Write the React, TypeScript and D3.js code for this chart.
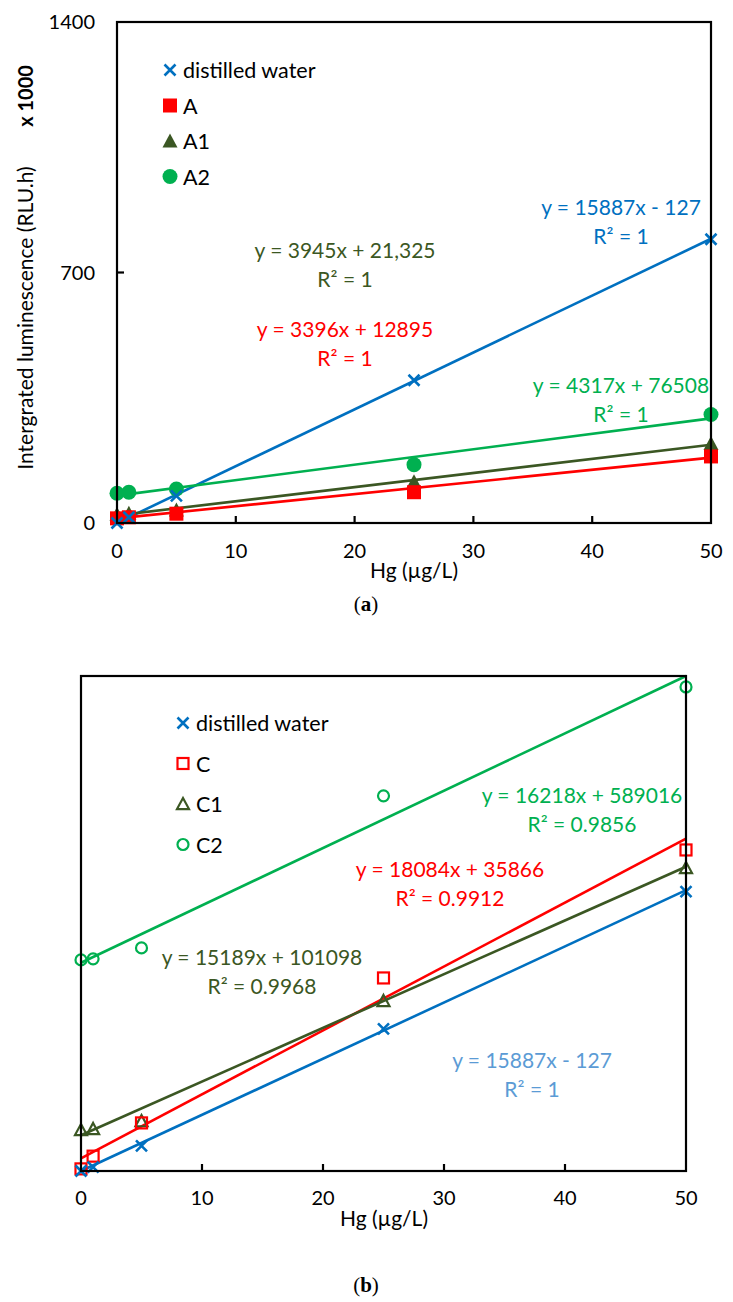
import React from "react";
import * as d3 from "d3";

const W = 733;
const H = 1302;
const FONT = "Lato, 'Open Sans', sans-serif";

const xValues = [0, 1, 5, 25, 50];
const xTicks = [0, 10, 20, 30, 40, 50];
const yTicksA = [0, 700, 1400];

// Panel (a) values (x1000 RLU.h)
const aWater = [0, 16, 76, 399, 793];
const aA = [13, 16, 26, 86, 186];
const aA1 = [24, 27, 36, 115, 222];
const aA2 = [83, 86, 95, 163, 303];

// Panel (b) values (x1000 RLU.h)
const bWater = [0, 11, 71, 402, 790];
const bC = [6, 42, 136, 546, 908];
const bC1 = [116, 119, 141, 481, 857];
const bC2 = [597, 600, 631, 1061, 1369];

// trendline coefficients (x1000)
const aFits = [
  { slope: 15.887, intercept: -0.127 },
  { slope: 3.396, intercept: 12.895 },
  { slope: 3.945, intercept: 21.325 },
  { slope: 4.317, intercept: 76.508 },
];
const bFits = [
  { slope: 15.887, intercept: -0.127 },
  { slope: 18.084, intercept: 35.866 },
  { slope: 15.189, intercept: 101.098 },
  { slope: 16.218, intercept: 589.016 },
];

const aNames = ["distilled water", "A", "A1", "A2"];
const bNames = ["distilled water", "C", "C1", "C2"];
const aEquations = [
  ["y = 15887x - 127", "R² = 1"],
  ["y = 3396x + 12895", "R² = 1"],
  ["y = 3945x + 21,325", "R² = 1"],
  ["y = 4317x + 76508", "R² = 1"],
];
const bEquations = [
  ["y = 15887x - 127", "R² = 1"],
  ["y = 18084x + 35866", "R² = 0.9912"],
  ["y = 15189x + 101098", "R² = 0.9968"],
  ["y = 16218x + 589016", "R² = 0.9856"],
];

const BLUE = "#0070C0";
const RED = "#FF0000";
const DKGREEN = "#3B5723";
const GREEN = "#00B050";
const LTBLUE = "#5B9BD5";
const lineColors = [BLUE, RED, DKGREEN, GREEN];

type Marker = "x" | "square" | "triangle" | "circle";
const markers: Marker[] = ["x", "square", "triangle", "circle"];

function MarkerShape({ type, cx, cy, color, filled }: { type: Marker; cx: number; cy: number; color: string; filled: boolean }) {
  if (type === "x") {
    const s = 5.5;
    return (
      <path d={`M${cx - s},${cy - s}L${cx + s},${cy + s}M${cx - s},${cy + s}L${cx + s},${cy - s}`} stroke={color} strokeWidth={2.6} fill="none" />
    );
  }
  if (type === "square") {
    const s = filled ? 7 : 5.5;
    return <rect x={cx - s} y={cy - s} width={2 * s} height={2 * s} fill={filled ? color : "none"} stroke={filled ? "none" : color} strokeWidth={2.2} />;
  }
  if (type === "triangle") {
    const s = filled ? 7.5 : 6;
    return (
      <path d={`M${cx},${cy - s}L${cx + s},${cy + s * 0.85}L${cx - s},${cy + s * 0.85}Z`} fill={filled ? color : "none"} stroke={filled ? "none" : color} strokeWidth={2.2} />
    );
  }
  const r = filled ? 7.5 : 5.5;
  return <circle cx={cx} cy={cy} r={r} fill={filled ? color : "none"} stroke={filled ? "none" : color} strokeWidth={2.2} />;
}

interface PanelProps {
  left: number;
  right: number;
  top: number;
  bottom: number;
  series: number[][];
  fits: { slope: number; intercept: number }[];
  names: string[];
  filled: boolean;
  legendX: number;
  legendY: number;
  legendGap: number;
  equations: string[][];
  eqPos: [number, number][];
  eqColors: string[];
  showY: boolean;
  xLabelY: number;
  xTitleX: number;
  xTitleY: number;
}

function Panel(p: PanelProps) {
  const x = d3.scaleLinear().domain([0, 50]).range([p.left, p.right]);
  const y = d3.scaleLinear().domain([0, 1400]).range([p.bottom, p.top]);
  return (
    <g>
      {p.fits.map((f, i) => {
        const path = d3
          .line<number>()
          .x((v) => x(v))
          .y((v) => y(f.slope * v + f.intercept))([0, 50]) as string;
        return <path key={"t" + i} d={path} stroke={lineColors[i]} strokeWidth={2.6} fill="none" />;
      })}
      {[3, 2, 1, 0].map((i) =>
        p.series[i].map((v, j) => (
          <MarkerShape key={`m${i}-${j}`} type={markers[i]} cx={x(xValues[j])} cy={y(v)} color={lineColors[i]} filled={p.filled} />
        ))
      )}
      <rect x={p.left} y={p.top} width={p.right - p.left} height={p.bottom - p.top} fill="none" stroke="#000" strokeWidth={2.2} />
      {xTicks.map((t) => (
        <g key={"xt" + t}>
          {t > 0 && t < 50 && <line x1={x(t)} x2={x(t)} y1={p.bottom} y2={p.bottom - 7} stroke="#000" strokeWidth={2.2} />}
          <text x={x(t)} y={p.xLabelY} textAnchor="middle" fontSize={20} fontFamily={FONT} fill="#000">
            {t}
          </text>
        </g>
      ))}
      {p.showY &&
        yTicksA.map((t) => (
          <g key={"yt" + t}>
            {t > 0 && t < 1400 && <line x1={p.left} x2={p.left + 7} y1={y(t)} y2={y(t)} stroke="#000" strokeWidth={2.2} />}
            <text x={p.left - 22} y={y(t) + 7} textAnchor="end" fontSize={20} fontFamily={FONT} fill="#000">
              {t}
            </text>
          </g>
        ))}
      <text x={p.xTitleX} y={p.xTitleY} textAnchor="middle" fontSize={21} fontFamily={FONT} fill="#000">
        Hg (µg/L)
      </text>
      {p.names.map((n, i) => (
        <g key={"lg" + i}>
          <MarkerShape type={markers[i]} cx={p.legendX} cy={p.legendY + i * p.legendGap} color={lineColors[i]} filled={p.filled} />
          <text x={p.legendX + 13} y={p.legendY + i * p.legendGap + 8} fontSize={21.5} fontFamily={FONT} fill="#000">
            {n}
          </text>
        </g>
      ))}
      {p.equations.map((eq, i) => (
        <g key={"eq" + i}>
          <text x={p.eqPos[i][0]} y={p.eqPos[i][1]} textAnchor="middle" fontSize={21} fontFamily={FONT} fill={p.eqColors[i]}>
            {eq[0]}
          </text>
          <text x={p.eqPos[i][0]} y={p.eqPos[i][1] + 29} textAnchor="middle" fontSize={21} fontFamily={FONT} fill={p.eqColors[i]}>
            {eq[1]}
          </text>
        </g>
      ))}
    </g>
  );
}

export default function App() {
  return (
    <svg width={W} height={H} style={{ position: "absolute", left: 0, top: 0, background: "#fff" }} xmlns="http://www.w3.org/2000/svg">
      <rect width={W} height={H} fill="#fff" />
      <Panel
        left={117}
        right={711}
        top={22}
        bottom={523}
        series={[aWater, aA, aA1, aA2]}
        fits={aFits}
        names={aNames}
        filled={true}
        legendX={170}
        legendY={70}
        legendGap={35.5}
        equations={aEquations}
        eqPos={[
          [621, 215],
          [345, 337],
          [345, 258],
          [621, 393],
        ]}
        eqColors={[BLUE, RED, DKGREEN, GREEN]}
        showY={true}
        xLabelY={558}
        xTitleX={414}
        xTitleY={578}
      />
      <text transform="translate(33,318) rotate(-90)" textAnchor="middle" fontSize={21} fontFamily={FONT} fill="#000">
        Intergrated luminescence (RLU.h)
      </text>
      <text transform="translate(33,96) rotate(-90)" textAnchor="middle" fontSize={20} fontWeight="bold" fontFamily={FONT} fill="#000">
        x 1000
      </text>
      <text x={366} y={611} textAnchor="middle" fontSize={21} fontFamily="'Liberation Serif', serif" fill="#000">
        (<tspan fontWeight="bold">a</tspan>)
      </text>
      <Panel
        left={81}
        right={686}
        top={676}
        bottom={1171}
        series={[bWater, bC, bC1, bC2]}
        fits={bFits}
        names={bNames}
        filled={false}
        legendX={183}
        legendY={723}
        legendGap={40.5}
        equations={bEquations}
        eqPos={[
          [532, 1068],
          [450, 877],
          [262, 965],
          [582, 803],
        ]}
        eqColors={[LTBLUE, RED, DKGREEN, GREEN]}
        showY={false}
        xLabelY={1205}
        xTitleX={384}
        xTitleY={1226}
      />
      <text x={366} y={1292} textAnchor="middle" fontSize={21} fontFamily="'Liberation Serif', serif" fill="#000">
        (<tspan fontWeight="bold">b</tspan>)
      </text>
    </svg>
  );
}
